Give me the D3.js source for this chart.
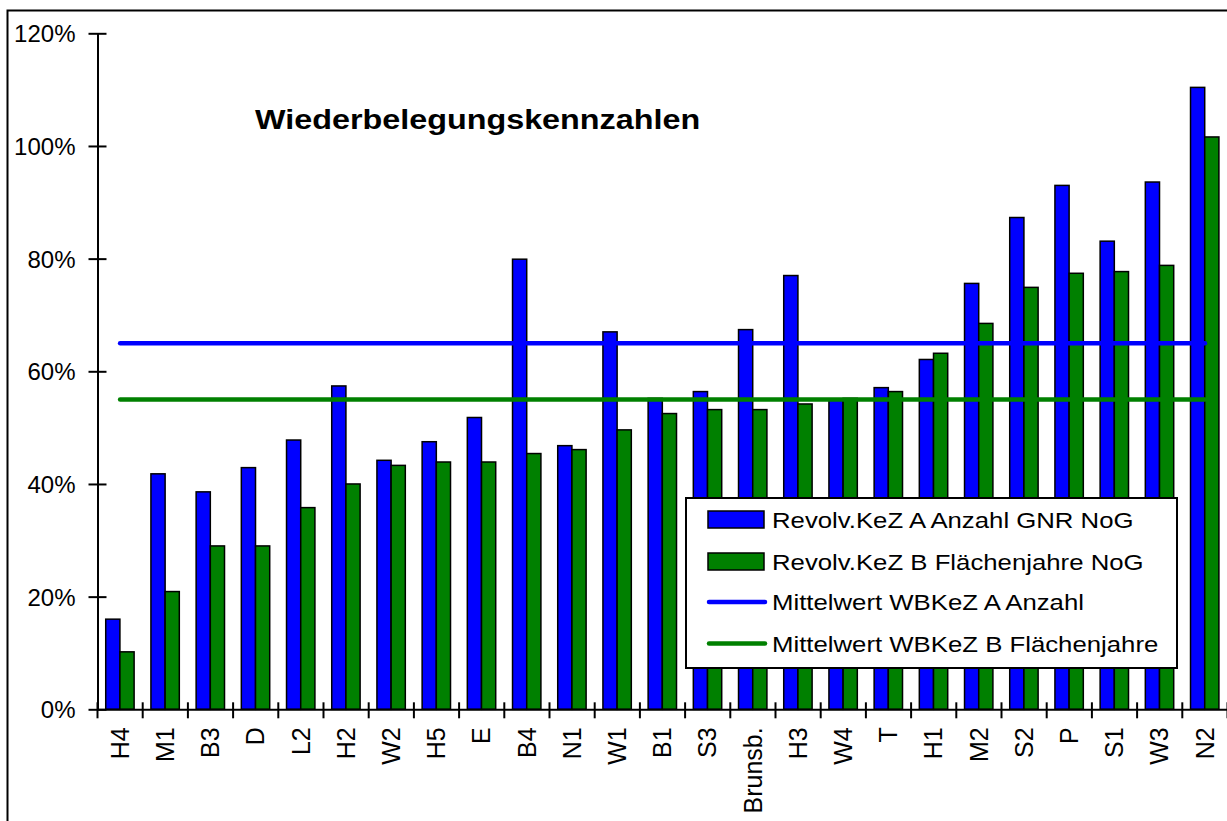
<!DOCTYPE html>
<html>
<head>
<meta charset="utf-8">
<script src="https://cdn.jsdelivr.net/npm/d3@7"></script>
<style>
  html, body { margin: 0; padding: 0; background: #fff; }
  svg { display: block; }
  text { font-family: "Liberation Sans", Arial, sans-serif; fill: #000; }
</style>
</head>
<body>
<svg id="chart" width="1227" height="821"></svg>
<script>
// Sites, ordered by key figure B
const categories = ["H4","M1","B3","D","L2","H2","W2","H5","E","B4","N1","W1","B1","S3","Brunsb.","H3","W4","T","H1","M2","S2","P","S1","W3","N2"];
// Revolv.KeZ A Anzahl GNR NoG (fraction)
const seriesA = [0.160,0.418,0.386,0.429,0.478,0.574,0.442,0.475,0.518,0.799,0.468,0.670,0.552,0.564,0.674,0.770,0.550,0.571,0.621,0.756,0.873,0.930,0.831,0.936,1.104];
// Revolv.KeZ B Flächenjahre NoG (fraction)
const seriesB = [0.102,0.209,0.290,0.290,0.358,0.400,0.433,0.439,0.439,0.454,0.461,0.496,0.525,0.532,0.532,0.542,0.552,0.564,0.632,0.685,0.749,0.774,0.777,0.788,1.016];
// Mean values
const meanA = 0.65;
const meanB = 0.55;
const yTicks = [0, 0.2, 0.4, 0.6, 0.8, 1.0, 1.2];
const seriesNames = ["Revolv.KeZ A Anzahl GNR NoG", "Revolv.KeZ B Flächenjahre NoG"];
const meanNames = ["Mittelwert WBKeZ A Anzahl", "Mittelwert WBKeZ B Flächenjahre"];
const title = "Wiederbelegungskennzahlen";

const BLUE = "#0000ff", GREEN = "#008000";
const FONT = "'Liberation Sans', Arial, sans-serif";
const svg = d3.select("#chart");

// outer frame
svg.append("rect").attr("x", 7.5).attr("y", 10.5).attr("width", 1240).attr("height", 830)
  .attr("fill", "none").attr("stroke", "#000").attr("stroke-width", 2);

const plot = { left: 97.5, right: 1227.5, top: 33.3, bottom: 709.3 };

const x = d3.scaleBand().domain(categories).range([plot.left, plot.right]).padding(0);
const bw = x.bandwidth();
const x1 = d3.scaleBand().domain(["A","B"]).range([bw * 0.182, bw * 0.81]).padding(0);
const y = d3.scaleLinear().domain([0, 1.2]).range([plot.bottom, plot.top]);

const rows = categories.map((c, i) => ({ c, A: seriesA[i], B: seriesB[i] }));

// bars
const g = svg.append("g");
const groups = g.selectAll("g.cat").data(rows).join("g")
  .attr("transform", d => `translate(${x(d.c)},0)`);
groups.selectAll("rect").data(d => [{k:"A", v:d.A}, {k:"B", v:d.B}]).join("rect")
  .attr("x", d => x1(d.k))
  .attr("width", x1.bandwidth())
  .attr("y", d => y(d.v))
  .attr("height", d => y(0) - y(d.v))
  .attr("fill", d => d.k === "A" ? BLUE : GREEN)
  .attr("stroke", "#000").attr("stroke-width", 1.5);

// mean lines
const xFirst = x(categories[0]) + bw / 2;
const xLast = x(categories[categories.length - 1]) + bw / 2;
[[meanA, BLUE], [meanB, GREEN]].forEach(([m, col]) => {
  svg.append("line").attr("x1", xFirst).attr("x2", xLast)
    .attr("y1", y(m)).attr("y2", y(m))
    .attr("stroke", col).attr("stroke-width", 4.5).attr("stroke-linecap", "round");
});

// y axis
const yAxis = d3.axisLeft(y).tickValues(yTicks).tickFormat(d3.format(".0%")).tickSize(0).tickPadding(0);
const ya = svg.append("g").attr("transform", `translate(${plot.left},0)`).call(yAxis);
ya.select(".domain").attr("stroke", "#000").attr("stroke-width", 2);
ya.selectAll(".tick line").remove();
ya.selectAll(".tick").append("line").attr("x1", -9).attr("x2", 9).attr("stroke", "#000").attr("stroke-width", 2);
ya.selectAll(".tick text").attr("x", -22).attr("dy", "0.35em")
  .style("font-size", "24px").style("font-family", FONT).attr("fill", "#000");

// x axis
const xAxis = d3.axisBottom(x).tickSize(0).tickPadding(0);
const xa = svg.append("g").attr("transform", `translate(0,${plot.bottom})`).call(xAxis);
xa.select(".domain").attr("stroke", "#000").attr("stroke-width", 2);
xa.selectAll(".tick text")
  .attr("transform", "rotate(-90)")
  .attr("x", -18).attr("y", 0).attr("dy", "0.35em")
  .attr("text-anchor", "end")
  .style("font-size", "25px").style("font-family", FONT).attr("fill", "#000");
// tick marks at category boundaries
const bounds = categories.map(c => x(c)).concat([plot.right]);
xa.selectAll("line.bound").data(bounds).join("line").attr("class", "bound")
  .attr("x1", d => d).attr("x2", d => d).attr("y1", -7).attr("y2", 9)
  .attr("stroke", "#000").attr("stroke-width", 2);

// title
svg.append("text").attr("transform", "translate(255,129) scale(1.155,1)")
  .style("font-size", "28px").style("font-weight", "bold").text(title);

// legend
const lg = svg.append("g");
lg.append("rect").attr("x", 686).attr("y", 498).attr("width", 491).attr("height", 170)
  .attr("fill", "#fff").attr("stroke", "#000").attr("stroke-width", 2);
const rowY = [519.5, 561.5, 602, 643.5];
const legendText = (yy, s) => lg.append("text")
  .attr("transform", `translate(772,${yy}) scale(1.12,1)`).attr("dy", "0.35em")
  .style("font-size", "23px").text(s);
[BLUE, GREEN].forEach((col, i) => {
  lg.append("rect").attr("x", 708).attr("y", rowY[i] - 8.5).attr("width", 56).attr("height", 17)
    .attr("fill", col).attr("stroke", "#000").attr("stroke-width", 1.5);
  legendText(rowY[i], seriesNames[i]);
});
[BLUE, GREEN].forEach((col, i) => {
  const yy = rowY[i + 2];
  lg.append("line").attr("x1", 709).attr("x2", 765).attr("y1", yy).attr("y2", yy)
    .attr("stroke", col).attr("stroke-width", 4.5).attr("stroke-linecap", "round");
  legendText(yy, meanNames[i]);
});
</script>
</body>
</html>
